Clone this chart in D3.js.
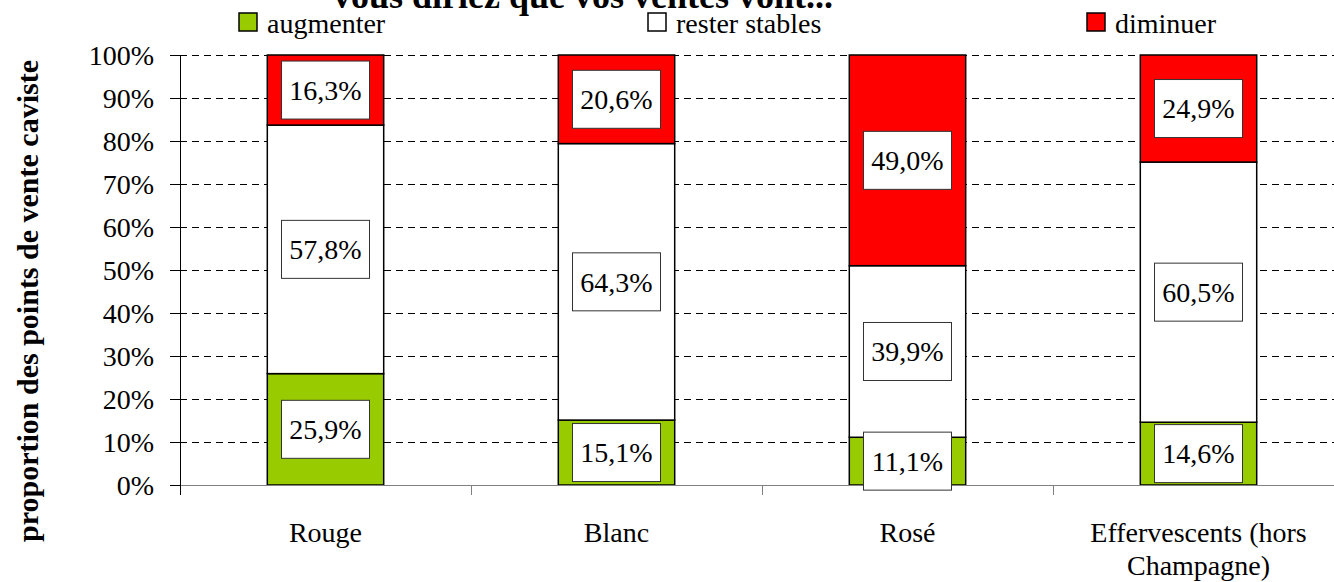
<!DOCTYPE html>
<html lang="fr">
<head>
<meta charset="UTF-8">
<title>Ventes</title>
<style>
	body { margin: 0; background: #fff; }
	svg { display: block; font-family: "Liberation Serif", "Times New Roman", serif; }
	.lbl { font-size: 28px; fill: #000; font-family: "Liberation Serif", "Times New Roman", serif; }
	.crisp { shape-rendering: crispEdges; }
</style>
</head>
<body>
<svg></svg>
<script src="https://cdn.jsdelivr.net/npm/d3@7"></script>
<script>
	// data
	const categories = ["Rouge", "Blanc", "Rosé", "Effervescents (hors\nChampagne)"];
	const seriesNames = ["augmenter", "rester stables", "diminuer"];
	const augmenter = [25.9, 15.1, 11.1, 14.6];
	const resterStables = [57.8, 64.3, 39.9, 60.5];
	const diminuer = [16.3, 20.6, 49.0, 24.9];
	const yTicks = [0, 10, 20, 30, 40, 50, 60, 70, 80, 90, 100];

	const width = 1334, height = 582;
	const plotLeft = 180, plotRight = 1344, plotTop = 55, plotBottom = 485;
	const colors = ["#99cc00", "#ffffff", "#ff0000"];

	const svg = d3.select("svg").attr("width", width).attr("height", height);

	const rows = categories.map((c, i) => ({
		cat: c,
		"augmenter": augmenter[i],
		"rester stables": resterStables[i],
		"diminuer": diminuer[i]
	}));
	const stacked = d3.stack().keys(seriesNames)(rows);

	const x = d3.scaleBand().domain(categories).range([plotLeft, plotRight])
		.paddingInner(0.6).paddingOuter(0.3);
	const y = d3.scaleLinear().domain([0, 100]).range([plotBottom, plotTop]);

	// dashed gridlines
	svg.append("g").attr("class", "crisp").selectAll("line").data(yTicks.filter(t => t > 0)).join("line")
		.attr("x1", plotLeft).attr("x2", plotRight)
		.attr("y1", d => y(d)).attr("y2", d => y(d))
		.attr("stroke", "#000").attr("stroke-width", 1)
		.attr("stroke-dasharray", "7,5");

	// bars
	const layer = svg.append("g").selectAll("g").data(stacked).join("g")
		.attr("fill", (d, i) => colors[i]);
	layer.selectAll("rect").data(d => d).join("rect")
		.attr("x", d => x(d.data.cat))
		.attr("width", x.bandwidth())
		.attr("y", d => y(d[1]))
		.attr("height", d => y(d[0]) - y(d[1]))
		.attr("stroke", "#000").attr("stroke-width", 1.5);

	// x axis line and ticks between categories
	const step = x.step();
	const bounds = categories.map(c => x(c) - step * 0.3).concat([plotRight]);
	const xAxis = svg.append("g").attr("class", "crisp");
	xAxis.append("line").attr("x1", plotLeft).attr("x2", plotRight)
		.attr("y1", plotBottom).attr("y2", plotBottom).attr("stroke", "#808080");
	xAxis.selectAll("line.tk").data(bounds).join("line").attr("class", "tk")
		.attr("x1", d => d).attr("x2", d => d)
		.attr("y1", plotBottom).attr("y2", plotBottom + 10)
		.attr("stroke", "#808080");

	// y axis
	const yAxis = svg.append("g").attr("transform", `translate(${plotLeft},0)`)
		.call(d3.axisLeft(y).tickValues(yTicks).tickSize(10).tickPadding(16)
			.tickFormat(d => d + "%"));
	yAxis.attr("font-family", null).attr("font-size", null);
	yAxis.select(".domain").attr("d", `M-0,${plotTop}V${plotBottom + 10}`)
		.attr("stroke", "#000").attr("class", "domain crisp");
	yAxis.selectAll(".tick line").attr("stroke", "#000").attr("class", "crisp");
	yAxis.selectAll("text").attr("class", "lbl").attr("dy", "0.35em");

	// category labels
	const catLabels = svg.append("g").selectAll("text").data(categories).join("text")
		.attr("class", "lbl").attr("text-anchor", "middle")
		.attr("x", d => x(d) + x.bandwidth() / 2).attr("y", plotBottom + 57);
	catLabels.selectAll("tspan").data(d => d.split("\n")).join("tspan")
		.attr("x", function () { return d3.select(this.parentNode).attr("x"); })
		.attr("dy", (d, i) => i ? 33 : 0)
		.text(d => d);

	// value labels in boxes
	const fmt = v => v.toFixed(1).replace(".", ",") + "%";
	const boxW = 88, boxH = 58;
	const labels = svg.append("g").selectAll("g")
		.data(stacked.flatMap(s => s.map(d => ({ d, v: d[1] - d[0] }))))
		.join("g")
		.attr("transform", o => `translate(${x(o.d.data.cat) + x.bandwidth() / 2},${y((o.d[0] + o.d[1]) / 2)})`);
	labels.append("rect")
		.attr("x", -boxW / 2).attr("y", -boxH / 2)
		.attr("width", boxW).attr("height", boxH)
		.attr("fill", "#fff").attr("stroke", "#333").attr("stroke-width", 1);
	labels.append("text").attr("class", "lbl").attr("text-anchor", "middle")
		.attr("dy", "0.35em").text(o => fmt(o.v));

	// y axis title
	svg.append("text")
		.attr("transform", "translate(38,301) rotate(-90)")
		.attr("text-anchor", "middle")
		.attr("font-weight", "bold").attr("font-size", 30)
		.text("proportion des points de vente caviste");

	// chart title (cut at the top)
	svg.append("text")
		.attr("x", 583).attr("y", 8)
		.attr("text-anchor", "middle")
		.attr("font-weight", "bold").attr("font-size", 36)
		.text("vous diriez que vos ventes vont...");

	// legend
	const legendX = [239, 648, 1087];
	const legend = svg.append("g").selectAll("g").data(seriesNames).join("g")
		.attr("transform", (d, i) => `translate(${legendX[i]},13)`);
	legend.append("rect").attr("width", 18).attr("height", 18)
		.attr("fill", (d, i) => colors[i]).attr("stroke", "#000").attr("stroke-width", 1.5);
	legend.append("text").attr("class", "lbl").attr("x", 28).attr("y", 20).text(d => d);
</script>
</body>
</html>
